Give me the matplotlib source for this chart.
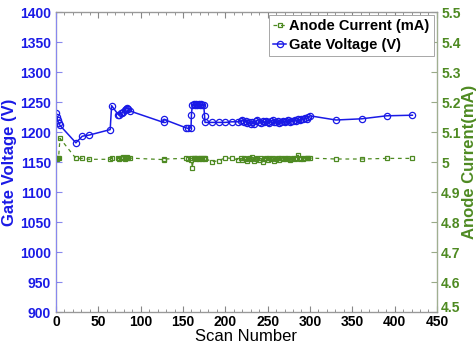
import numpy as np
import matplotlib
matplotlib.use('Agg')
import matplotlib.pyplot as plt
import matplotlib.transforms as mtransforms
from matplotlib.ticker import MultipleLocator, FuncFormatter

plt.rcParams['font.family'] = ['Liberation Sans', 'DejaVu Sans']

# Data
scan = [0, 1, 2, 3, 4.7, 23.5, 31, 39.5, 64, 65.7,
        73.5, 75, 76.5, 78, 79.5, 81, 82.5, 84, 85.5, 87.4,
        127, 127.5, 153.5, 156, 159.5, 160, 161, 162.5, 164, 165.5,
        167, 168.5, 170, 171.5, 173, 174.5, 175.5, 176, 184, 192,
        200, 207.5, 215, 218, 220, 222, 224, 226, 228, 230,
        232, 234, 236, 238, 240, 242, 244, 246, 248, 250,
        252, 254, 256, 258, 260, 262, 264, 266, 268, 270,
        272, 274, 276, 278, 280, 282, 284, 286, 288, 290,
        292, 294, 296, 298, 300, 330.7, 361, 390.5, 421]

gate_v = [1231, 1225, 1220, 1215, 1211, 1182, 1193, 1195, 1204, 1244,
          1229, 1229, 1231, 1232, 1234, 1236, 1238, 1240, 1239, 1235,
          1216, 1221, 1207, 1206, 1207, 1229, 1245, 1246, 1245, 1246,
          1245, 1246, 1245, 1246, 1245, 1245, 1227, 1216, 1216, 1216,
          1216, 1217, 1217, 1218, 1220, 1217, 1219, 1215, 1217, 1214,
          1216, 1213, 1218, 1220, 1217, 1215, 1218, 1216, 1219, 1217,
          1215, 1218, 1220, 1217, 1216, 1218, 1215, 1217, 1219, 1216,
          1218, 1220, 1217, 1219, 1218, 1220, 1219, 1221, 1220, 1222,
          1221, 1223, 1222, 1225, 1227, 1220, 1222, 1227, 1228]

anode_i = [5.012, 5.010, 5.014, 5.012, 5.079, 5.012, 5.012, 5.009, 5.009, 5.012,
           5.012, 5.010, 5.014, 5.012, 5.016, 5.011, 5.015, 5.016, 5.013, 5.013,
           5.008, 5.010, 5.012, 5.010, 5.013, 5.008, 4.981, 5.012, 5.014, 5.010,
           5.013, 5.009, 5.012, 5.014, 5.011, 5.013, 5.010, 5.012, 5.001, 5.004,
           5.014, 5.012, 5.008, 5.012, 5.008, 5.015, 5.010, 5.005, 5.013, 5.009,
           5.016, 5.003, 5.011, 5.014, 5.008, 5.012, 5.000, 5.010, 5.013, 5.007,
           5.015, 5.009, 5.012, 5.004, 5.011, 5.014, 5.008, 5.012, 5.010, 5.015,
           5.009, 5.013, 5.006, 5.011, 5.014, 5.010, 5.012, 5.023, 5.011, 5.013,
           5.009, 5.014, 5.012, 5.015, 5.013, 5.010, 5.010, 5.012, 5.012]

blue = '#1a1ae6'
green = '#4e8a22'

fig = plt.figure(figsize=(4.77, 3.49), dpi=100)
ax = fig.add_axes([0.1174, 0.106, 0.7986, 0.8596])
ax2 = ax.twinx()

l_gate, = ax.plot(scan, gate_v, '-o', color=blue, lw=1.1, ms=4.5,
                  mfc='none', mew=0.9, label='Gate Voltage (V)')
l_anode, = ax2.plot(scan, anode_i, '--s', color=green, lw=0.9, ms=3.5,
                    mfc='none', mew=0.9, label='Anode Current (mA)',
                    dashes=(3, 3))

ax.set_xlim(0, 450)
ax.set_ylim(900, 1400)
ax2.set_ylim(4.5, 5.5)

ax.xaxis.set_major_locator(MultipleLocator(50))
ax.xaxis.set_minor_locator(MultipleLocator(10))
ax.yaxis.set_major_locator(MultipleLocator(50))
ax2.yaxis.set_major_locator(MultipleLocator(0.1))
# the lowest right label is drawn by hand below, a bit higher, like the original
ax2.yaxis.set_major_formatter(
    FuncFormatter(lambda v, p: '' if abs(v - 4.5) < 1e-6 else '%g' % round(v, 1)))

ax.tick_params(axis='x', which='both', direction='in', top=True, colors='#888888',
               labelcolor='black', labelsize=10, pad=2)
ax.tick_params(axis='x', which='major', length=4)
ax.tick_params(axis='x', which='minor', length=2)
ax.tick_params(axis='y', direction='in', length=4, colors='#8888ee',
               labelcolor=blue, labelsize=10)
ax2.tick_params(axis='y', direction='in', length=4, colors='#99aa88',
                labelcolor=green, labelsize=10, pad=3)

for lab in ax.get_xticklabels() + ax.get_yticklabels() + ax2.get_yticklabels():
    lab.set_fontweight('bold')

off = mtransforms.offset_copy(ax2.get_yaxis_transform(), fig=fig, x=3, y=3, units='points')
ax2.text(1.0, 4.5, '4.5', transform=off, ha='left', va='center',
         color=green, fontsize=10, fontweight='bold')

for s in ['top', 'bottom']:
    ax2.spines[s].set_color('#999999')
ax2.spines['left'].set_color('#8888ee')
ax2.spines['right'].set_color('#a0b090')

ax.set_xlabel('Scan Number', fontsize=12, labelpad=0)
ax.set_ylabel('Gate Voltage (V)', fontsize=12, fontweight='bold', color=blue, labelpad=2)
ax2.set_ylabel('Anode Current(mA)', fontsize=12, fontweight='bold', color=green, labelpad=1)

leg = ax2.legend([l_anode, l_gate], ['Anode Current (mA)', 'Gate Voltage (V)'],
                 loc='upper right', prop={'weight': 'bold', 'size': 10.5},
                 handlelength=0.9, handletextpad=0.2, borderpad=0.3,
                 labelspacing=0.3, fancybox=False, framealpha=1,
                 borderaxespad=0.2)
leg.get_frame().set_edgecolor('#999999')
leg.get_frame().set_linewidth(0.6)

fig.savefig('out.png', dpi=100)
